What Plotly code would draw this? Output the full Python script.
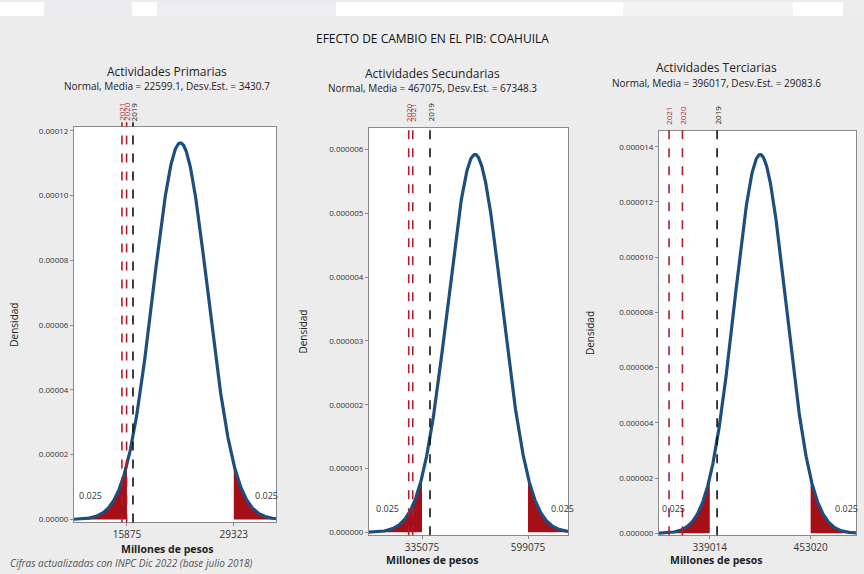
import numpy as np
import plotly.graph_objects as go

# ---------------- data ----------------
main_title = "EFECTO DE CAMBIO EN EL PIB: COAHUILA"
panel_titles = ["Actividades Primarias", "Actividades Secundarias", "Actividades Terciarias"]
means = [22599.1, 467075, 396017]
sds = [3430.7, 67348.3, 29083.6]
mean_text = ["22599.1", "467075", "396017"]
sd_text = ["3430.7", "67348.3", "29083.6"]
lower_crit = [15875, 335075, 339014]
upper_crit = [29323, 599075, 453020]
tail_label = "0.025"
year_names = ["2021", "2020", "2019"]
year_vals = [
    [15242, 15830, 16634],
    [312000, 302000, 355000],
    [292937, 308107, 347278],
]
ytick_vals = [
    [0, 0.00002, 0.00004, 0.00006, 0.00008, 0.00010, 0.00012],
    [0, 0.000001, 0.000002, 0.000003, 0.000004, 0.000005, 0.000006],
    [0, 0.000002, 0.000004, 0.000006, 0.000008, 0.000010, 0.000012, 0.000014],
]
ytick_fmt = [".5f", ".6f", ".6f"]
x_label = "Millones de pesos"
y_label = "Densidad"
footnote = "Cifras actualizadas con INPC Dic 2022 (base julio 2018)"

# ---------------- layout helpers ----------------
W, H = 864, 574
def px(x):
    return x / W
def py(y):
    return 1 - y / H

# frame pixel boxes (left, right, top, bottom)
frames = [(74, 276, 126, 525), (369, 568, 127, 538), (659, 856, 130, 538)]
x_ranges = [(9208, 34636), (203075, 698700), (281616, 504305)]
y_ranges = [(-9.2e-7, 1.212e-4), (-4.7e-8, 6.34e-6), (-7.2e-8, 1.4575e-5)]
title_pos = [(167, 70, 85), (432, 72, 87), (716, 66, 82)]
xlab_pos = [(167, 552), (432, 563), (716, 563)]
ylab_x = [14, 303, 590]
tail_pos = [((90, 498), (266, 498)), ((387, 511), (562, 511)), ((673, 511), (846, 511))]
year_colors = ["#B01E2E", "#B01E2E", "#111111"]

FONT = "Open Sans"
CURVE = "#1D4E7E"
FILL = "#A50F17"

fig = go.Figure()
annotations = []
shapes = []

def note(x, y, text, size, color="#222", angle=0, xanchor="center", yanchor="middle"):
    annotations.append(dict(x=px(x), y=py(y), xref="paper", yref="paper", text=text,
                            showarrow=False, textangle=angle, xanchor=xanchor, yanchor=yanchor,
                            font=dict(family=FONT, size=size, color=color)))

# background artefacts at top
shapes.append(dict(type="rect", xref="paper", yref="paper", x0=0, x1=1, y0=py(14), y1=1,
                   fillcolor="white", line_width=0, layer="below"))
for a, b, c in [(44, 132, "#ECECF0"), (157, 336, "#EEEEF2"), (623, 793, "#F4F4F4"), (843, 864, "#EDEDED")]:
    shapes.append(dict(type="rect", xref="paper", yref="paper", x0=px(a), x1=px(b), y0=py(14), y1=1,
                       fillcolor=c, line_width=0, layer="below"))

for i in range(3):
    ax = "" if i == 0 else str(i + 1)
    xr, yr = x_ranges[i], y_ranges[i]
    m, s = means[i], sds[i]

    def f(v):
        return np.exp(-0.5 * ((v - m) / s) ** 2) / (s * np.sqrt(2 * np.pi))

    xs = np.linspace(xr[0], xr[1], 500)
    lo, hi = lower_crit[i], upper_crit[i]
    xl = np.append(xs[xs < lo], lo)
    xh = np.insert(xs[xs > hi], 0, hi)
    for xx in (xl, xh):
        fig.add_trace(go.Scatter(x=xx, y=f(xx), mode="lines", fill="tozeroy",
                                 fillcolor=FILL, line=dict(color=FILL, width=0.5),
                                 xaxis="x" + ax, yaxis="y" + ax, showlegend=False,
                                 hoverinfo="skip"))
    fig.add_trace(go.Scatter(x=xs, y=f(xs), mode="lines", line=dict(color=CURVE, width=3.2),
                             xaxis="x" + ax, yaxis="y" + ax, showlegend=False))

    l, r, t, b = frames[i]
    common = dict(showline=True, linecolor="#8A8A8A", linewidth=1, mirror=True,
                  showgrid=False, zeroline=False, ticks="outside", ticklen=3,
                  tickcolor="#8A8A8A")
    fig.update_layout(**{
        "xaxis" + ax: dict(domain=[px(l), px(r)], range=list(xr), anchor="y" + ax,
                           tickvals=[lo, hi], ticktext=[str(lo), str(hi)],
                           tickfont=dict(family=FONT, size=10, color="#333"), **common),
        "yaxis" + ax: dict(domain=[py(b), py(t)], range=list(yr), anchor="x" + ax,
                           tickvals=ytick_vals[i], tickformat=ytick_fmt[i],
                           tickfont=dict(family=FONT, size=8, color="#333"), **common),
    })

    # reference year lines
    for name, val, col in zip(year_names, year_vals[i], year_colors):
        shapes.append(dict(type="line", xref="x" + ax, yref="y" + ax + " domain",
                           x0=val, x1=val, y0=0, y1=1.012,
                           line=dict(color=col, width=1.6, dash="dash")))
        annotations.append(dict(x=val, xref="x" + ax, y=py(t - 4), yref="paper",
                                text=name, textangle=-90, showarrow=False,
                                yanchor="bottom", xanchor="center",
                                font=dict(family=FONT, size=8, color=col)))

    cx, ty, sy = title_pos[i]
    note(cx, ty, panel_titles[i], 12)
    note(cx, sy, "Normal, Media = " + mean_text[i] + ", Desv.Est. = " + sd_text[i], 10)
    note(xlab_pos[i][0], xlab_pos[i][1], "<b>" + x_label + "</b>", 10.5)
    note(ylab_x[i], (t + b) / 2, y_label, 10, angle=-90)
    for (tx, tyy) in tail_pos[i]:
        note(tx, tyy, tail_label, 9, color="#333")

note(432, 37, main_title, 12, color="#111")
note(8, 566, "<i>" + footnote + "</i>", 10, color="#555", xanchor="left")

fig.update_layout(width=W, height=H, margin=dict(l=0, r=0, t=0, b=0),
                  paper_bgcolor="#ECECEC", plot_bgcolor="white",
                  annotations=annotations, shapes=shapes, showlegend=False)
fig.write_html("out.html")
